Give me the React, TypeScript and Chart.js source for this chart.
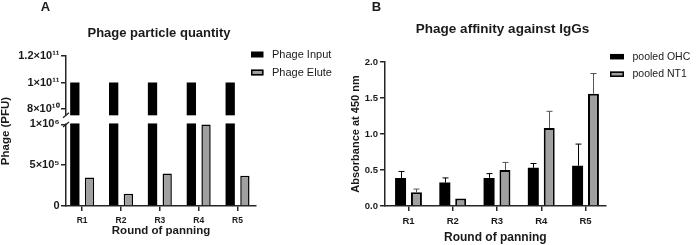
import React, { useEffect, useRef } from 'react';
import { Chart, registerables, LinearScale } from 'chart.js';

Chart.register(...registerables);

// ---------- data ----------
const rounds = ['R1', 'R2', 'R3', 'R4', 'R5'];

const phageInput = [1e11, 1e11, 1e11, 1e11, 1e11];
const phageElute = [3.5e5, 1.5e5, 4.0e5, 1.0e6, 3.7e5];
const leftTickValues = [0, 5e5, 1e6, 8e10, 1e11, 1.2e11];
const leftTickLabels = ['0', '5×10⁵', '1×10⁶', '8×10¹⁰', '1×10¹¹', '1.2×10¹¹'];

const pooledOHC = [0.39, 0.325, 0.39, 0.53, 0.56];
const pooledOHCErr = [0.09, 0.065, 0.06, 0.06, 0.3];
const pooledNT1 = [0.19, 0.105, 0.5, 1.085, 1.56];
const pooledNT1Err = [0.045, 0, 0.105, 0.23, 0.28];
const rightTickValues = [0, 0.5, 1.0, 1.5, 2.0];
const rightTickLabels = ['0.0', '0.5', '1.0', '1.5', '2.0'];

// ---------- broken axis configuration ----------
const LOWER_MAX = 1e6;
const UPPER_MIN = 7.55e10;
const UPPER_MAX = 1.2e11;
const LOWER_FRAC = 0.5437;
const GAP_FRAC = 0.0621;

function brokenFrac(v: number): number {
  if (v <= LOWER_MAX) return (v / LOWER_MAX) * LOWER_FRAC;
  if (v >= UPPER_MIN) {
    return LOWER_FRAC + GAP_FRAC + ((v - UPPER_MIN) / (UPPER_MAX - UPPER_MIN)) * (1 - LOWER_FRAC - GAP_FRAC);
  }
  return LOWER_FRAC + ((v - LOWER_MAX) / (UPPER_MIN - LOWER_MAX)) * GAP_FRAC;
}
function brokenValue(f: number): number {
  if (f <= LOWER_FRAC) return (f / LOWER_FRAC) * LOWER_MAX;
  if (f >= LOWER_FRAC + GAP_FRAC) {
    return UPPER_MIN + ((f - LOWER_FRAC - GAP_FRAC) / (1 - LOWER_FRAC - GAP_FRAC)) * (UPPER_MAX - UPPER_MIN);
  }
  return LOWER_MAX + ((f - LOWER_FRAC) / GAP_FRAC) * (UPPER_MIN - LOWER_MAX);
}

class BrokenLinearScale extends LinearScale {
  static id = 'brokenLinear';
  getPixelForValue(value: any) {
    if (value === null || value === undefined || !isFinite(value)) return NaN;
    return this.getPixelForDecimal(brokenFrac(value));
  }
  getValueForPixel(pixel: number) {
    return brokenValue(this.getDecimalForPixel(pixel));
  }
}
Chart.register(BrokenLinearScale as any);

// ---------- styles ----------
const FF = '"Liberation Sans", Arial, Helvetica, sans-serif';
const AXIS = '#262626';
const TEXT = '#1a1a1a';
const GREY = '#a0a0a0';

function axisStyle(tickSize: number) {
  return {
    border: { display: true, color: AXIS, width: 1.5 },
    grid: {
      display: true,
      drawOnChartArea: false,
      drawTicks: true,
      tickLength: 5,
      color: AXIS,
      lineWidth: 1.5,
      offset: false,
    },
    ticks: {
      font: { family: FF, size: tickSize, weight: 'bold' as const },
      color: TEXT,
      padding: 2,
      autoSkip: false,
      maxRotation: 0,
    },
  };
}

type Decor = {
  letter: string;
  letterX: number;
  title: string;
  titleX: number;
  titleY: number;
  titleSize: number;
  legendX: number;
  legendY: number;
  legendGap: number;
  legendSize: number;
  boxW: number;
  boxH: number;
  broken?: boolean;
  errors?: number[][];
  errorColors?: string[];
};

function decorPlugin(d: Decor) {
  return {
    id: 'decor',
    afterDatasetsDraw(chart: any) {
      if (!d.errors) return;
      const ctx = chart.ctx;
      const ys = chart.scales.y;
      ctx.save();
      ctx.lineWidth = 1;
      d.errors.forEach((errs, di) => {
        const meta = chart.getDatasetMeta(di);
        const ds = chart.data.datasets[di];
        meta.data.forEach((bar: any, j: number) => {
          const e = errs[j];
          if (!e) return;
          const v = ds.data[j].y;
          const yTop = ys.getPixelForValue(v + e);
          const x = Math.round(bar.x) + 0.5;
          ctx.strokeStyle = d.errorColors ? d.errorColors[di] : '#000';
          ctx.beginPath();
          ctx.moveTo(x, bar.y);
          ctx.lineTo(x, yTop);
          ctx.moveTo(x - 3, yTop);
          ctx.lineTo(x + 3, yTop);
          ctx.stroke();
        });
      });
      ctx.restore();
    },
    afterDraw(chart: any) {
      const ctx = chart.ctx;
      const area = chart.chartArea;
      ctx.save();
      // break in the y axis
      if (d.broken) {
        const ys = chart.scales.y;
        const yU = ys.getPixelForValue(UPPER_MIN);
        const yL = ys.getPixelForValue(LOWER_MAX);
        ctx.fillStyle = '#ffffff';
        ctx.fillRect(area.left - 2, yU + 0.2, area.right - area.left + 4, yL - yU - 1.2);
        ctx.strokeStyle = AXIS;
        ctx.lineWidth = 1.3;
        [yU, yL].forEach((yy) => {
          ctx.beginPath();
          ctx.moveTo(area.left - 3, yy + 2.5);
          ctx.lineTo(area.left + 3, yy - 2.5);
          ctx.stroke();
        });
      }
      // panel letter
      ctx.fillStyle = TEXT;
      ctx.textBaseline = 'alphabetic';
      ctx.textAlign = 'left';
      ctx.font = `bold 13px ${FF}`;
      ctx.fillText(d.letter, d.letterX, 10.7);
      // title
      ctx.textAlign = 'center';
      ctx.font = `bold ${d.titleSize}px ${FF}`;
      ctx.fillText(d.title, d.titleX, d.titleY);
      // legend
      ctx.textAlign = 'left';
      ctx.textBaseline = 'middle';
      ctx.font = `${d.legendSize}px ${FF}`;
      chart.data.datasets.forEach((ds: any, i: number) => {
        const y = d.legendY + i * d.legendGap;
        ctx.fillStyle = ds.backgroundColor;
        ctx.fillRect(d.legendX, y - d.boxH / 2, d.boxW, d.boxH);
        if (ds.borderWidth) {
          ctx.strokeStyle = ds.borderColor;
          ctx.lineWidth = 1.5;
          ctx.strokeRect(d.legendX + 0.75, y - d.boxH / 2 + 0.75, d.boxW - 1.5, d.boxH - 1.5);
        }
        ctx.fillStyle = TEXT;
        ctx.fillText(ds.label, d.legendX + d.boxW + 8.5, y);
      });
      ctx.restore();
    },
  };
}

function leftConfig(): any {
  const base = axisStyle(8.5);
  return {
    type: 'bar',
    data: {
      datasets: [
        {
          label: 'Phage Input',
          data: rounds.map((_, i) => ({ x: i + 1, y: phageInput[i] })),
          backgroundColor: '#000000',
          borderWidth: 0,
        },
        {
          label: 'Phage Elute',
          data: rounds.map((_, i) => ({ x: i + 1, y: phageElute[i] })),
          backgroundColor: GREY,
          borderColor: '#000000',
          borderWidth: 1.5,
        },
      ],
    },
    options: {
      animation: false,
      responsive: false,
      events: [],
      layout: { padding: { left: 0, right: 94, top: 56, bottom: 0 } },
      categoryPercentage: 0.756,
      barPercentage: 0.633,
      plugins: { legend: { display: false }, tooltip: { enabled: false }, title: { display: false } },
      scales: {
        x: {
          type: 'linear',
          min: 0.584,
          max: 5.475,
          offset: false,
          ...base,
          ticks: { ...base.ticks, padding: 4.5, callback: (v: number) => rounds[v - 1] ?? '' },
          afterBuildTicks: (s: any) => {
            s.ticks = rounds.map((_, i) => ({ value: i + 1 }));
          },
          afterFit: (s: any) => {
            s.height = 39;
          },
          title: {
            display: true,
            text: 'Round of panning',
            font: { family: FF, size: 11.5, weight: 'bold', lineHeight: 1 },
            color: TEXT,
            padding: { top: 0, bottom: 8 },
          },
        },
        y: {
          type: 'brokenLinear',
          min: 0,
          max: UPPER_MAX,
          ...base,
          ticks: {
            ...base.ticks,
            font: { family: FF, size: 11, weight: 'bold' },
            padding: 1.5,
            callback: (v: number) => {
              const k = leftTickValues.indexOf(v);
              return k >= 0 ? leftTickLabels[k] : '';
            },
          },
          afterBuildTicks: (s: any) => {
            s.ticks = leftTickValues.map((v) => ({ value: v }));
          },
          afterFit: (s: any) => {
            s.width = 66;
          },
          title: {
            display: true,
            text: 'Phage (PFU)',
            font: { family: FF, size: 11.5, weight: 'bold', lineHeight: 1 },
            color: TEXT,
            padding: 0,
          },
        },
      },
    },
    plugins: [
      decorPlugin({
        letter: 'A',
        letterX: 40.7,
        title: 'Phage particle quantity',
        titleX: 159,
        titleY: 37.3,
        titleSize: 13,
        legendX: 251,
        legendY: 54.5,
        legendGap: 18,
        legendSize: 11,
        boxW: 12.5,
        boxH: 6,
        broken: true,
      }),
    ],
  };
}

function rightConfig(): any {
  const base = axisStyle(9.5);
  return {
    type: 'bar',
    data: {
      datasets: [
        {
          label: 'pooled OHC',
          data: rounds.map((_, i) => ({ x: i + 1, y: pooledOHC[i] })),
          backgroundColor: '#000000',
          borderWidth: 0,
        },
        {
          label: 'pooled NT1',
          data: rounds.map((_, i) => ({ x: i + 1, y: pooledNT1[i] })),
          backgroundColor: GREY,
          borderColor: '#000000',
          borderWidth: 2,
        },
      ],
    },
    options: {
      animation: false,
      responsive: false,
      events: [],
      layout: { padding: { left: 0, right: 94.3, top: 62, bottom: 0 } },
      categoryPercentage: 0.718,
      barPercentage: 0.69,
      plugins: { legend: { display: false }, tooltip: { enabled: false }, title: { display: false } },
      scales: {
        x: {
          type: 'linear',
          min: 0.469,
          max: 5.456,
          offset: false,
          ...base,
          ticks: { ...base.ticks, padding: 4.5, callback: (v: number) => rounds[v - 1] ?? '' },
          afterBuildTicks: (s: any) => {
            s.ticks = rounds.map((_, i) => ({ value: i + 1 }));
          },
          afterFit: (s: any) => {
            s.height = 39;
          },
          title: {
            display: true,
            text: 'Round of panning',
            font: { family: FF, size: 12, weight: 'bold', lineHeight: 1 },
            color: TEXT,
            padding: { top: 0, bottom: 1 },
          },
        },
        y: {
          type: 'linear',
          min: 0,
          max: 2,
          ...base,
          ticks: {
            ...base.ticks,
            callback: (v: number) => {
              const k = rightTickValues.indexOf(v);
              return k >= 0 ? rightTickLabels[k] : '';
            },
          },
          afterBuildTicks: (s: any) => {
            s.ticks = rightTickValues.map((v) => ({ value: v }));
          },
          afterFit: (s: any) => {
            s.width = 35;
          },
          title: {
            display: true,
            text: 'Absorbance at 450 nm',
            font: { family: FF, size: 11, weight: 'bold', lineHeight: 1 },
            color: TEXT,
            padding: 0,
          },
        },
      },
    },
    plugins: [
      decorPlugin({
        letter: 'B',
        letterX: 21.7,
        title: 'Phage affinity against IgGs',
        titleX: 152.5,
        titleY: 33.3,
        titleSize: 13.5,
        legendX: 260,
        legendY: 56.7,
        legendGap: 17.5,
        legendSize: 10.5,
        boxW: 14,
        boxH: 5.5,
        errors: [pooledOHCErr, pooledNT1Err],
        errorColors: ['#000000', '#555555'],
      }),
    ],
  };
}

function Panel({ make, left }: { make: () => any; left: number }) {
  const ref = useRef<HTMLCanvasElement | null>(null);
  useEffect(() => {
    if (!ref.current) return;
    const chart = new Chart(ref.current, make());
    return () => chart.destroy();
  }, [make]);
  return (
    <canvas
      ref={ref}
      width={350}
      height={245}
      style={{ position: 'absolute', left, top: 0, width: 350, height: 245 }}
    />
  );
}

export default function App() {
  return (
    <div style={{ position: 'fixed', left: 0, top: 0, width: 700, height: 245, background: '#fff' }}>
      <Panel make={leftConfig} left={0} />
      <Panel make={rightConfig} left={350} />
    </div>
  );
}
